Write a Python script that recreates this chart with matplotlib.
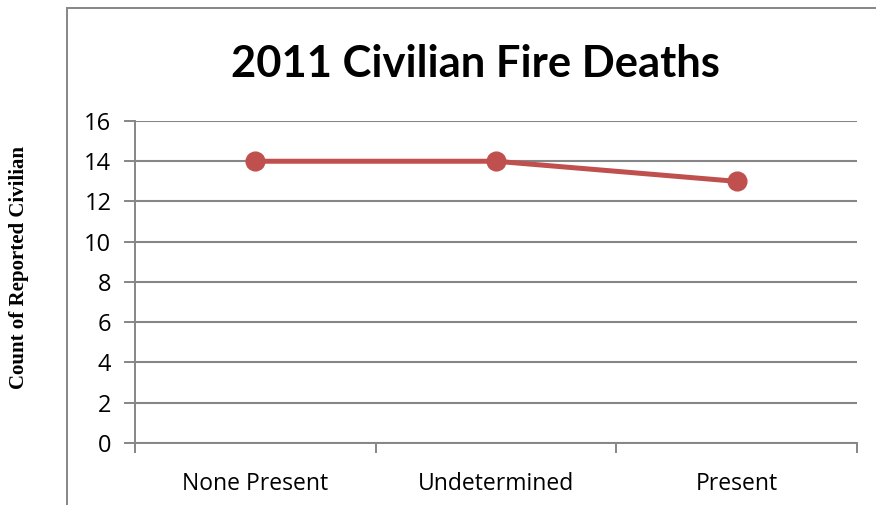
import matplotlib.pyplot as plt
from matplotlib.patches import Rectangle

# 2011 civilian fire deaths by smoke alarm status
categorias = ['None Present', 'Undetermined', 'Present']
mortes = [14, 14, 13]
ticks_y = [0, 2, 4, 6, 8, 10, 12, 14, 16]

cinza = '#868686'
vermelho = '#C0504D'

fig = plt.figure(figsize=(8.76, 5.05), dpi=100)
ax = fig.add_axes([0.1541, 0.1228, 0.8242, 0.6376])

# moldura do gráfico
moldura = Rectangle((0.0765, -0.05), 1.0, 1.034, transform=fig.transFigure,
                    fill=False, edgecolor=cinza, linewidth=1.4, clip_on=False)
fig.patches.append(moldura)

x = [i + 0.5 for i in range(len(categorias))]
ax.plot(x, mortes, color=vermelho, linewidth=3.6, marker='o', markersize=13.5,
        solid_capstyle='round', zorder=3, clip_on=False)

ax.set_xlim(0, 3)
ax.set_ylim(0, 16)
ax.set_yticks(ticks_y)
ax.set_yticklabels([str(v) for v in ticks_y], fontfamily='Open Sans', fontsize=17)
ax.yaxis.grid(True, color=cinza, linewidth=1.5)
ax.set_axisbelow(True)

ax.set_xticks(x)
ax.set_xticklabels(categorias, fontfamily='Open Sans', fontsize=16.5)
ax.tick_params(axis='x', which='major', length=0, pad=21)
ax.set_xticks([0, 1, 2, 3], minor=True)
ax.tick_params(axis='x', which='minor', length=7, width=1.4, color=cinza)
ax.tick_params(axis='y', length=8, width=1.4, color=cinza, pad=9)

for lado in ['top', 'right']:
    ax.spines[lado].set_visible(False)
for lado in ['left', 'bottom']:
    ax.spines[lado].set_color(cinza)
    ax.spines[lado].set_linewidth(1.4)

fig.text(0.543, 0.874, '2011 Civilian Fire Deaths', ha='center', va='center',
         fontfamily='Lato', fontweight='bold', fontsize=31.3)
fig.text(0.022, 0.47, 'Count of Reported Civilian', rotation=90, ha='center',
         va='center', fontfamily='Liberation Serif', fontweight='bold', fontsize=15)

fig.savefig('out.png', dpi=100)
